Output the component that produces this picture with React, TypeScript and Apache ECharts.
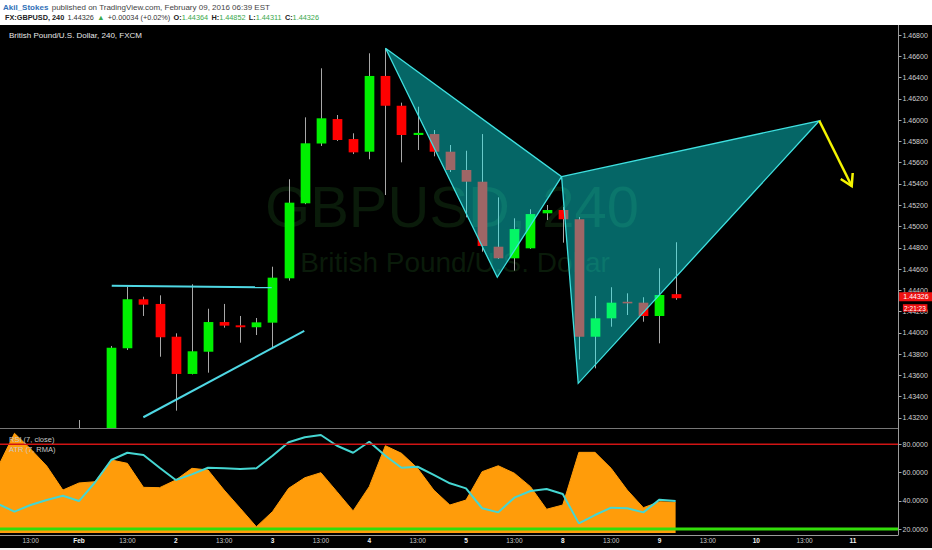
import React, { useEffect, useRef } from 'react';
import * as echarts from 'echarts';

const FONT = '"Liberation Sans", Arial, sans-serif';

// ---- categories (4H slots) ----
const DAYS = ['Jan 29', 'Feb 1', 'Feb 2', 'Feb 3', 'Feb 4', 'Feb 5', 'Feb 8', 'Feb 9', 'Feb 10', 'Feb 11'];
const DAY_TICK_LABELS = ['', 'Feb', '2', '3', '4', '5', '8', '9', '10', '11'];
const HOURS = ['01:00', '05:00', '09:00', '13:00', '17:00', '21:00'];
const SLOT_COUNT = 56;
const CATEGORIES = DAYS.flatMap((d) => HOURS.map((h) => `${d} ${h}`)).slice(1, 1 + SLOT_COUNT);
const TIME_TICK_SLOTS = CATEGORIES.map((c, i) => (c.endsWith('01:00') || c.endsWith('13:00') ? i : -1)).filter((i) => i >= 0);

// ---- tick labels ----
const PRICE_TICKS = [1.432, 1.434, 1.436, 1.438, 1.44, 1.442, 1.444, 1.446, 1.448, 1.45, 1.452, 1.454, 1.456, 1.458, 1.46, 1.462, 1.464, 1.466, 1.468];
const IND_TICKS = [20, 40, 60, 80];

// ---- candles: [open, close, low, high], one per slot from Jan 29 05:00 ----
const CANDLES = [
  [1.4262, 1.4255, 1.4248, 1.427],
  [1.4255, 1.4245, 1.4238, 1.4268],
  [1.4245, 1.4252, 1.4236, 1.4262],
  [1.4252, 1.424, 1.4232, 1.4258],
  [1.424, 1.4248, 1.4235, 1.4255],
  [1.4248, 1.4262, 1.424, 1.43181],
  [1.4262, 1.428, 1.4255, 1.4295],
  [1.428, 1.43861, 1.4272, 1.43877],
  [1.43855, 1.44316, 1.43839, 1.44434],
  [1.44316, 1.44265, 1.44159, 1.4434],
  [1.44272, 1.43959, 1.43776, 1.44353],
  [1.43964, 1.43614, 1.43269, 1.43996],
  [1.43614, 1.43827, 1.4361, 1.44457],
  [1.43823, 1.44102, 1.43626, 1.44227],
  [1.44102, 1.44068, 1.44049, 1.44272],
  [1.44071, 1.44053, 1.43908, 1.44159],
  [1.44053, 1.44099, 1.4398, 1.4414],
  [1.44096, 1.44519, 1.43855, 1.44622],
  [1.44513, 1.45224, 1.44491, 1.45444],
  [1.45218, 1.45782, 1.4521, 1.46026],
  [1.4578, 1.46017, 1.45757, 1.46487],
  [1.4601, 1.45813, 1.45804, 1.46048],
  [1.45822, 1.45697, 1.45681, 1.45876],
  [1.45703, 1.46415, 1.45632, 1.46628],
  [1.46415, 1.46135, 1.45296, 1.46675],
  [1.46135, 1.4586, 1.45603, 1.46164],
  [1.4586, 1.4588, 1.45719, 1.46126],
  [1.45869, 1.45703, 1.4566, 1.45907],
  [1.45703, 1.45531, 1.45512, 1.45766],
  [1.45531, 1.45421, 1.45086, 1.45712],
  [1.45421, 1.44817, 1.44763, 1.45869],
  [1.4481, 1.44701, 1.44695, 1.45274],
  [1.44701, 1.44976, 1.44585, 1.45077],
  [1.44795, 1.45117, 1.4479, 1.45162],
  [1.45124, 1.45155, 1.45061, 1.45202],
  [1.45155, 1.45068, 1.44848, 1.45183],
  [1.45068, 1.43964, 1.4375, 1.45088],
  [1.43964, 1.44137, 1.43667, 1.44347],
  [1.44137, 1.44284, 1.44058, 1.44429],
  [1.44285, 1.4428, 1.44168, 1.44372],
  [1.44284, 1.44159, 1.44105, 1.44335],
  [1.44159, 1.44356, 1.43902, 1.44607],
  [1.44364, 1.44326, 1.44311, 1.44852],
];
const LAST_PRICE = 1.44326;
const COUNTDOWN = '2:21:23';

// ---- drawings (slot index, price) ----
const PATTERN_1 = [24.01, 1.46675, 34.93, 1.45468, 30.94, 1.44523];
const PATTERN_2 = [34.93, 1.45468, 50.91, 1.45994, 35.96, 1.43526];
const RESISTANCE_LINE = [[7.03, 1.44443], [16.95, 1.44428]];
const SUPPORT_LINE = [[8.99, 1.43207], [18.97, 1.44018]];
const ARROW = [50.91, 1.45994, 52.92, 1.45381];

// ---- indicator values ----
const ATR_AREA = [64.6, 87.8, 76.7, 64.6, 47.6, 52.6, 53.5, 68.9, 66.5, 49.5, 49.3, 54.7, 63.0, 61.8, 47.6, 34.7, 21.6, 32.3, 48.8, 56.3, 59.9, 46.4, 32.8, 50.0, 79.0, 73.6, 63.0, 47.6, 37.0, 40.5, 60.6, 64.8, 59.5, 50.0, 34.0, 37.0, 74.3, 74.3, 63.0, 47.6, 35.1, 39.3, 38.9];
const RSI_LINE = [37.6, 32.3, 37.0, 40.5, 43.6, 39.8, 53.1, 68.9, 74.0, 72.4, 63.4, 54.7, 58.7, 63.4, 63.0, 62.5, 63.0, 71.9, 81.4, 85.0, 86.6, 79.0, 74.0, 81.8, 71.9, 63.4, 64.1, 58.3, 52.4, 48.8, 34.7, 31.8, 42.2, 46.9, 48.3, 44.8, 24.0, 29.9, 35.1, 34.7, 31.8, 40.8, 39.8];
const LEVEL_HIGH = 80;
const LEVEL_LOW = 20;

// ---- layout constants ----
const PANE_WIDTH = 893.3;
const XMIN = 0.101;
const XMAX = SLOT_COUNT - 0.5;
const PMIN = 1.43106;
const PMAX = 1.46894;
const IMIN = 17.17;
const IMAX = 90.13;

const GREEN = '#00f000';
const RED = '#ff0000';
const CYAN = '#3fe0e0';

function xLabel(value: number) {
  const cat = CATEGORIES[Math.round(value)];
  if (!cat) return '';
  const parts = cat.split(' ');
  const day = parts[0] + ' ' + parts[1];
  const hour = parts[2];
  if (hour === '01:00') {
    const idx = DAYS.indexOf(day);
    return DAY_TICK_LABELS[idx] ? `{d|${DAY_TICK_LABELS[idx]}}` : '';
  }
  if (hour === '13:00') return '13:00';
  return '';
}

function buildOption(): any {
  return {
    animation: false,
    backgroundColor: '#000000',
    grid: [
      { left: 0, width: PANE_WIDTH, top: 25, height: 403 },
      { left: 0, width: PANE_WIDTH, top: 430, height: 103 },
      { left: 0, width: 898.5, top: 430, height: 103 },
    ],
    xAxis: [
      { type: 'value', gridIndex: 0, min: XMIN, max: XMAX, show: false },
      {
        type: 'value', gridIndex: 1, min: XMIN, max: XMAX,
        axisLine: { show: false }, axisTick: { show: false }, splitLine: { show: false },
        axisLabel: {
          customValues: TIME_TICK_SLOTS, formatter: xLabel, color: '#c8c8c8', fontSize: 6.5, margin: 4, fontFamily: FONT,
          showMinLabel: true, showMaxLabel: true,
          rich: { d: { color: '#f0f0f0', fontWeight: 'bold', fontSize: 6.5, fontFamily: FONT } },
        },
      },
      { type: 'value', gridIndex: 2, min: 0, max: 1, show: false },
    ],
    yAxis: [
      {
        type: 'value', gridIndex: 0, min: PMIN, max: PMAX, position: 'right', offset: 5.2,
        axisLine: { show: false }, splitLine: { show: false },
        axisTick: { show: true, length: 3, customValues: PRICE_TICKS, lineStyle: { color: '#aaaaaa' } },
        axisLabel: { customValues: PRICE_TICKS, formatter: (v: number) => v.toFixed(5), color: '#d0d0d0', fontSize: 7, margin: 4, fontFamily: FONT },
      },
      {
        type: 'value', gridIndex: 1, min: IMIN, max: IMAX, position: 'right', offset: 5.2,
        axisLine: { show: false }, splitLine: { show: false },
        axisTick: { show: true, length: 3, customValues: IND_TICKS, lineStyle: { color: '#aaaaaa' } },
        axisLabel: { customValues: IND_TICKS, formatter: (v: number) => v.toFixed(4), color: '#d0d0d0', fontSize: 7, margin: 4, fontFamily: FONT },
      },
      { type: 'value', gridIndex: 2, min: IMIN, max: IMAX, show: false },
    ],
    graphic: [
      { type: 'text', z: 0, x: 452, y: 206, style: { text: 'GBPUSD, 240', fill: '#0a1b0a', font: `58px ${FONT}`, align: 'center', verticalAlign: 'middle' } },
      { type: 'text', z: 0, x: 455, y: 262, style: { text: 'British Pound/U.S. Dollar', fill: '#0a1b0a', font: `28px ${FONT}`, align: 'center', verticalAlign: 'middle' } },
      { type: 'rect', z: 100, shape: { x: 0, y: 0, width: 932, height: 25 }, style: { fill: '#ffffff' } },
      { type: 'rect', z: 100, shape: { x: 0, y: 548, width: 932, height: 2 }, style: { fill: '#f2f2f2' } },
      {
        type: 'text', z: 101, x: 3, y: 7,
        style: {
          text: '{u|Akil_Stokes} {t|published on TradingView.com, February 09, 2016 06:39 EST}',
          verticalAlign: 'middle',
          rich: {
            u: { fill: '#2f6fb7', fontWeight: 'bold', fontSize: 8, fontFamily: FONT },
            t: { fill: '#444444', fontSize: 8, fontFamily: FONT },
          },
        },
      },
      {
        type: 'text', z: 101, x: 5, y: 17,
        style: {
          text: '{b|FX:GBPUSD, 240} {t|1.44326} {g|▲} {t|+0.00034 (+0.02%)} {b|O:}{g|1.44364} {b|H:}{g|1.44852} {b|L:}{g|1.44311} {b|C:}{g|1.44326}',
          verticalAlign: 'middle',
          rich: {
            b: { fill: '#222222', fontWeight: 'bold', fontSize: 7.3, fontFamily: FONT },
            t: { fill: '#333333', fontSize: 7.3, fontFamily: FONT },
            g: { fill: '#3aa84c', fontSize: 7.3, fontFamily: FONT },
          },
        },
      },
      { type: 'text', z: 101, x: 9, y: 35, style: { text: 'British Pound/U.S. Dollar, 240, FXCM', fill: '#e8e8e8', font: `8px ${FONT}`, verticalAlign: 'middle' } },
      { type: 'text', z: 101, x: 9, y: 439, style: { text: 'RSI (7, close)', fill: '#c8c8c8', font: `7.5px ${FONT}`, verticalAlign: 'middle' } },
      { type: 'text', z: 101, x: 9, y: 449, style: { text: 'ATR (7, RMA)', fill: '#c8c8c8', font: `7.5px ${FONT}`, verticalAlign: 'middle' } },
      { type: 'line', z: 50, shape: { x1: 0, y1: 428.5, x2: 898.5, y2: 428.5 }, style: { stroke: '#777777', lineWidth: 1 } },
      { type: 'line', z: 50, shape: { x1: 898.5, y1: 25, x2: 898.5, y2: 535 }, style: { stroke: '#9a9a9a', lineWidth: 1 } },
      { type: 'line', z: 50, shape: { x1: 0, y1: 535.5, x2: 898.5, y2: 535.5 }, style: { stroke: '#9a9a9a', lineWidth: 1 } },
    ],
    series: [
      {
        type: 'custom', name: 'candles', xAxisIndex: 0, yAxisIndex: 0, z: 2,
        data: CANDLES.map((c, i) => [i, c[0], c[1], c[2], c[3]]),
        encode: { x: 0, y: [1, 2, 3, 4] },
        renderItem: (params: any, api: any) => {
          const i = api.value(0);
          const o = api.value(1), c = api.value(2), l = api.value(3), h = api.value(4);
          const cs = params.coordSys;
          const top = cs.y, bot = cs.y + cs.height;
          const cl = (y: number) => Math.max(top, Math.min(bot, y));
          const pO = api.coord([i, o]);
          const yC = api.coord([i, c])[1];
          const yL = api.coord([i, l])[1];
          const yH = api.coord([i, h])[1];
          const x = Math.round(pO[0]) + 0.5;
          const w = api.size([1, 0])[0] * 0.6;
          const children: any[] = [];
          if (yL > top && yH < bot) {
            children.push({ type: 'line', shape: { x1: x, y1: cl(yH), x2: x, y2: cl(yL) }, style: { stroke: '#a8a8a8', lineWidth: 1 } });
          }
          const b1 = Math.min(pO[1], yC), b2 = Math.max(pO[1], yC);
          if (b2 > top && b1 < bot) {
            const y1 = cl(b1), y2 = cl(b2);
            const hgt = Math.max(y2 - y1, 1.6);
            children.push({ type: 'rect', shape: { x: x - w / 2, y: y1 - (y2 - y1 < 1.6 ? 0.8 : 0), width: w, height: hgt }, style: { fill: c >= o ? GREEN : RED } });
          }
          return { type: 'group', children };
        },
      },
      {
        type: 'custom', name: 'patterns', xAxisIndex: 0, yAxisIndex: 0, z: 3,
        data: [PATTERN_1, PATTERN_2],
        encode: { x: [0, 2, 4], y: [1, 3, 5] },
        renderItem: (params: any, api: any) => {
          const pts = [0, 2, 4].map((k) => api.coord([api.value(k), api.value(k + 1)]));
          return {
            type: 'polygon', shape: { points: pts },
            style: { fill: 'rgba(12,255,255,0.4)', stroke: CYAN, lineWidth: 1.3 },
          };
        },
      },
      {
        type: 'line', name: 'resistance', xAxisIndex: 0, yAxisIndex: 0, z: 4, data: RESISTANCE_LINE,
        symbol: 'none', lineStyle: { color: '#4fd8e4', width: 2 },
      },
      {
        type: 'line', name: 'support', xAxisIndex: 0, yAxisIndex: 0, z: 4, data: SUPPORT_LINE,
        symbol: 'none', lineStyle: { color: '#4fd8e4', width: 2 },
      },
      {
        type: 'custom', name: 'arrow', xAxisIndex: 0, yAxisIndex: 0, z: 4,
        data: [ARROW],
        encode: { x: [0, 2], y: [1, 3] },
        renderItem: (params: any, api: any) => {
          const a = api.coord([api.value(0), api.value(1)]);
          const b = api.coord([api.value(2), api.value(3)]);
          const ang = Math.atan2(a[1] - b[1], a[0] - b[0]);
          const len = 13, spread = 0.54;
          const h1 = [b[0] + len * Math.cos(ang + spread), b[1] + len * Math.sin(ang + spread)];
          const h2 = [b[0] + len * Math.cos(ang - spread), b[1] + len * Math.sin(ang - spread)];
          return {
            type: 'group',
            children: [
              { type: 'line', shape: { x1: a[0], y1: a[1], x2: b[0], y2: b[1] }, style: { stroke: '#f4f400', lineWidth: 2.5 } },
              { type: 'polyline', shape: { points: [h1, b, h2] }, style: { stroke: '#f4f400', lineWidth: 2.5, fill: 'none' } },
            ],
          };
        },
      },
      {
        type: 'custom', name: 'lastPrice', xAxisIndex: 0, yAxisIndex: 0, z: 20,
        data: [[CANDLES.length - 1, LAST_PRICE]],
        encode: { x: 0, y: 1 },
        renderItem: (params: any, api: any) => {
          const p = api.coord([api.value(0), api.value(1)]);
          const cs = params.coordSys;
          const x0 = cs.x + cs.width + 5.8;
          const y = p[1];
          return {
            type: 'group',
            children: [
              { type: 'rect', shape: { x: x0, y: y - 6, width: 40, height: 9 }, style: { fill: '#ee1111' } },
              { type: 'text', x: x0 + 4.2, y: y - 1.5, style: { text: api.value(1).toFixed(5), fill: '#ffffff', font: `7px ${FONT}`, verticalAlign: 'middle' } },
              { type: 'rect', shape: { x: x0 + 3.8, y: y + 6, width: 24.5, height: 7.5 }, style: { fill: '#ee1111' } },
              { type: 'text', x: x0 + 5, y: y + 9.8, style: { text: COUNTDOWN, fill: '#ffffff', font: `6.5px ${FONT}`, verticalAlign: 'middle' } },
            ],
          };
        },
      },
      {
        type: 'line', name: 'ATR (7, RMA)', xAxisIndex: 1, yAxisIndex: 1, z: 2, data: ATR_AREA.map((v, i) => [i, v]),
        symbol: 'none', lineStyle: { color: '#ff9c0a', width: 1 },
        areaStyle: { color: '#ff9c0a', opacity: 1, origin: 'start' },
      },
      {
        type: 'line', name: 'RSI (7, close)', xAxisIndex: 1, yAxisIndex: 1, z: 3, data: RSI_LINE.map((v, i) => [i, v]),
        symbol: 'none', lineStyle: { color: '#45d6d2', width: 2 },
      },
      {
        type: 'line', name: 'upper', xAxisIndex: 2, yAxisIndex: 2, z: 5, data: [[0, LEVEL_HIGH], [1, LEVEL_HIGH]],
        symbol: 'none', lineStyle: { color: '#d01414', width: 1.5 },
      },
      {
        type: 'line', name: 'lower', xAxisIndex: 2, yAxisIndex: 2, z: 5, data: [[0, LEVEL_LOW], [1, LEVEL_LOW]],
        symbol: 'none', lineStyle: { color: '#33dd0a', width: 3 },
      },
    ],
  };
}

export default function App() {
  const ref = useRef<HTMLDivElement>(null);
  useEffect(() => {
    document.body.style.margin = '0';
    const chart = echarts.init(ref.current as HTMLDivElement, null, { renderer: 'svg' });
    chart.setOption(buildOption());
    return () => {
      chart.dispose();
    };
  }, []);
  return <div ref={ref} style={{ width: 932, height: 550 }} />;
}
